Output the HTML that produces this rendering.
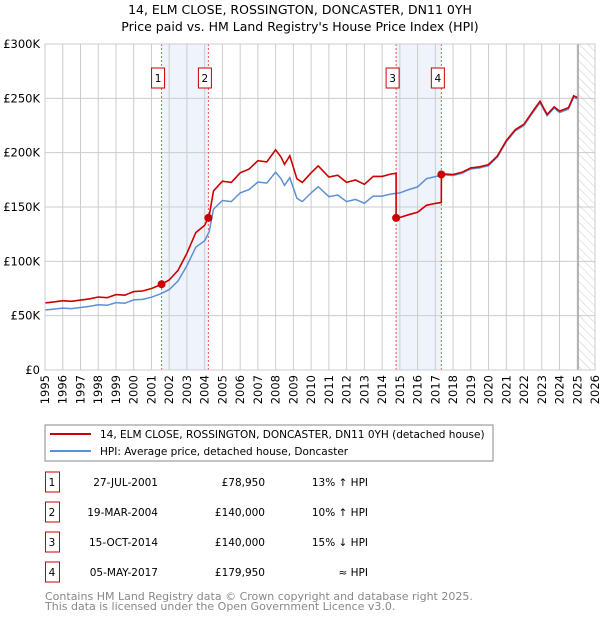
<!DOCTYPE html>
<html><head><meta charset="utf-8">
<style>
body{margin:0;background:#fff;font-family:"DejaVu Sans","Liberation Sans",sans-serif;}
svg text{font-family:"DejaVu Sans","Liberation Sans",sans-serif;}
</style></head>
<body>
<svg id="chart" width="600" height="620" xmlns="http://www.w3.org/2000/svg">
<defs>
<pattern id="hatch" width="6" height="6" patternUnits="userSpaceOnUse" patternTransform="rotate(-45)">
<line x1="0" y1="0" x2="0" y2="6" stroke="#ccc" stroke-width="1"/>
</pattern>
</defs>
<text x="300" y="14" text-anchor="middle" font-size="12.5" fill="#000">14, ELM CLOSE, ROSSINGTON, DONCASTER, DN11 0YH</text>
<text x="300" y="31" text-anchor="middle" font-size="12.5" fill="#000">Price paid vs. HM Land Registry's House Price Index (HPI)</text>
<g id="plot"></g>
<rect x="45" y="425" width="448" height="36" fill="#fff" stroke="#888"/>
<line x1="50" y1="434" x2="91" y2="434" stroke="#cc0000" stroke-width="2"/>
<text x="100" y="438" font-size="10.5">14, ELM CLOSE, ROSSINGTON, DONCASTER, DN11 0YH (detached house)</text>
<line x1="50" y1="451" x2="91" y2="451" stroke="#5b8fd6" stroke-width="2"/>
<text x="100" y="455" font-size="10.5">HPI: Average price, detached house, Doncaster</text>
<g id="table" font-size="10.5"></g>
<text x="45" y="600" font-size="11" fill="#888">Contains HM Land Registry data © Crown copyright and database right 2025.</text>
<text x="45" y="610" font-size="11" fill="#888">This data is licensed under the Open Government Licence v3.0.</text>
</svg>
<script>
const hpiYears=[1995,1995.5,1996,1996.5,1997,1997.5,1998,1998.5,1999,1999.5,2000,2000.5,2001,2001.5,2002,2002.5,2003,2003.5,2004,2004.25,2004.5,2005,2005.5,2006,2006.5,2007,2007.5,2008,2008.3,2008.5,2008.8,2009.2,2009.5,2010,2010.4,2011,2011.5,2012,2012.5,2013,2013.5,2014,2014.5,2015,2015.5,2016,2016.5,2017,2017.5,2018,2018.5,2019,2019.5,2020,2020.5,2021,2021.5,2022,2022.5,2022.9,2023.3,2023.7,2024,2024.5,2024.8,2025];
const hpiValues=[55.2,56,57,56.5,57.5,58.5,60,59.5,62,61.5,64.5,65,67,70,74,82,96,113,119,127,148,156,155,163,166,173,172,182,176,170,177,158,155,163,168.7,159.5,161,155,157,153.5,160,160,162,163,166,168.5,176,178,179.5,179,181,185,186,188,196,210,220,225,237,246,234,241,237,240,251,249.5];
const saleYears=[2001.57,2004.21,2014.79,2017.34];
const salePrices=[78.95,140,140,179.95];
const saleLabels=["1","2","3","4"];
const saleDates=["27-JUL-2001","19-MAR-2004","15-OCT-2014","05-MAY-2017"];
const salePriceText=["£78,950","£140,000","£140,000","£179,950"];
const saleHpiText=["13% ↑ HPI","10% ↑ HPI","15% ↓ HPI","≈ HPI"];
const yTicks=[0,50,100,150,200,250,300];
const yTickLabels=["£0","£50K","£100K","£150K","£200K","£250K","£300K"];
const xStart=1995, xEnd=2026, hatchStart=2025.05;

const X=y=>45+(y-xStart)*(550/(xEnd-xStart));
const Y=v=>370-v*326/300;
const NS="http://www.w3.org/2000/svg";
const plot=document.getElementById('plot');
function mk(tag,attrs,parent){const e=document.createElementNS(NS,tag);for(const k in attrs)e.setAttribute(k,attrs[k]);(parent||plot).appendChild(e);return e;}
function hpiAt(t){for(let i=1;i<hpiYears.length;i++){if(t<=hpiYears[i]){const f=(t-hpiYears[i-1])/(hpiYears[i]-hpiYears[i-1]);return hpiValues[i-1]+f*(hpiValues[i]-hpiValues[i-1]);}}return hpiValues[hpiValues.length-1];}

for(let i=0;i<saleYears.length;i+=2){
  const r=mk('rect',{x:X(saleYears[i]),y:44,width:X(saleYears[i+1])-X(saleYears[i]),height:326,fill:'#eef3fc'});
  
  
}
const h=mk('rect',{x:X(hatchStart),y:44,width:595-X(hatchStart),height:326,fill:'url(#hatch)'});


for(let yr=xStart;yr<=xEnd;yr++){
  const l=mk('line',{x1:X(yr),x2:X(yr),y1:44,y2:370,stroke:'#ccc','stroke-width':1});
  
  
  const t=mk('text',{x:0,y:0,'font-size':11.5,'text-anchor':'end',transform:`translate(${X(yr)+4},375) rotate(-90)`});
  t.textContent=yr;
  
  
}
yTicks.forEach((v,i)=>{
  const l=mk('line',{x1:45,x2:595,y1:Y(v),y2:Y(v),stroke:'#ccc','stroke-width':1});
  
  
  const t=mk('text',{x:40,y:Y(v)+4,'font-size':11.5,'text-anchor':'end'});
  t.textContent=yTickLabels[i];
  
  
});
const vl=mk('line',{x1:X(hatchStart),x2:X(hatchStart),y1:44,y2:370,stroke:'#999','stroke-width':1.2});


saleYears.forEach((s,i)=>{
  const l=mk('line',{x1:X(s),x2:X(s),y1:44,y2:370,stroke:'#e55','stroke-width':1,'stroke-dasharray':'2,2'});
  
  
  const b=mk('rect',{x:X(s)-10,y:68,width:13,height:20,fill:'#fff',stroke:'#cc0000','stroke-width':1});
  
  
  const t=mk('text',{x:X(s)-3.5,y:82,'font-size':10.5,'text-anchor':'middle'});
  t.textContent=saleLabels[i];
  
  
});
const hp=mk('path',{d:hpiYears.map((y,i)=>(i?'L':'M')+X(y).toFixed(1)+','+Y(hpiValues[i]).toFixed(1)).join(''),fill:'none',stroke:'#5b8fd6','stroke-width':1.5});


function priceAt(t){let k=0;for(let i=0;i<saleYears.length;i++)if(t>=saleYears[i])k=i;return salePrices[k]*hpiAt(t)/hpiAt(saleYears[k]);}
const pts=[];
for(const y of hpiYears){
  saleYears.forEach((s,i)=>{if(s>(pts.length?pts[pts.length-1][0]:0)&&s<=y){pts.push([s-0.001,priceAt(s-0.001)]);pts.push([s,salePrices[i]]);}});
  pts.push([y,priceAt(y)]);
}
const pp=mk('path',{d:pts.map((p,i)=>(i?'L':'M')+X(p[0]).toFixed(1)+','+Y(p[1]).toFixed(1)).join(''),fill:'none',stroke:'#cc0000','stroke-width':1.6});


saleYears.forEach((s,i)=>{
  const c=mk('circle',{cx:X(s),cy:Y(salePrices[i]),r:4,fill:'#cc0000'});
  
  
});
const fr=mk('rect',{x:45,y:44,width:550,height:326,fill:'none',stroke:'#ccc'});



const tb=document.getElementById('table');
saleLabels.forEach((lab,i)=>{
  const cy=482+i*30;
  const b=mk('rect',{x:45.5,y:cy-10,width:14,height:20,fill:'#fff',stroke:'#cc0000'},tb);
  
  
  const vals=[[52,lab,'middle'],[158,saleDates[i],'end'],[265,salePriceText[i],'end'],[368,saleHpiText[i],'end']];
  const names=['table-index','table-date','table-price','table-hpi-diff'];
  vals.forEach((v,j)=>{
    const t=mk('text',{x:v[0],y:cy+4,'text-anchor':v[2]},tb);
    t.textContent=v[1];
    
    
  });
});
</script>
</body></html>
